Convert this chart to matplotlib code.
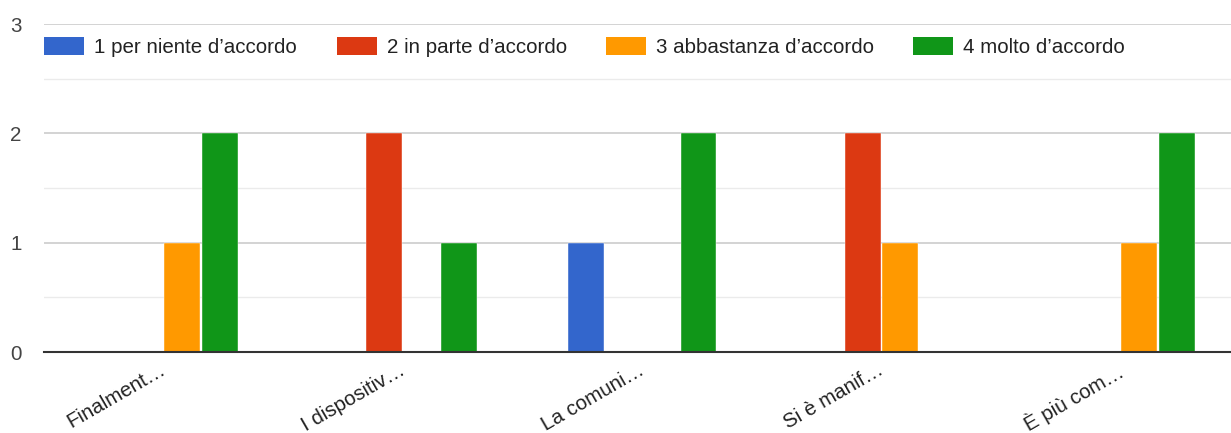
import matplotlib
matplotlib.use("Agg")
import matplotlib.pyplot as plt
import matplotlib.transforms as mtrans
from matplotlib.patches import Patch
import numpy as np

plt.rcParams['font.family'] = ['Liberation Sans', 'DejaVu Sans']

categories = ["Finalment…", "I dispositiv…", "La comuni…", "Si è manif…", "È più com…"]
series_names = ["1 per niente d’accordo", "2 in parte d’accordo",
                "3 abbastanza d’accordo", "4 molto d’accordo"]
s1 = [0, 0, 1, 0, 0]
s2 = [0, 2, 0, 2, 0]
s3 = [1, 0, 0, 1, 1]
s4 = [2, 1, 2, 0, 2]
colors = ["#3366cc", "#dc3912", "#ff9900", "#109618"]
yticks = [0, 1, 2, 3]

FS = 14.8
fig = plt.figure(figsize=(12.31, 4.33), dpi=100)
ax = fig.add_axes([44/1231, 1 - 352/433, 1 - 44/1231, (352 - 24)/433])

x = np.arange(len(categories))
step = 0.157
width = 0.150
for k, (vals, c) in enumerate(zip([s1, s2, s3, s4], colors)):
    ax.bar(x + (k - 1.5) * step, vals, width=width, color=c, zorder=3,
           edgecolor='white', linewidth=0.3)

ax.set_xlim(-0.5, -0.5 + 1187/239.25)
ax.set_ylim(0, 3)
ax.set_yticks(yticks)
ax.set_yticks([0.5, 1.5, 2.5], minor=True)
ax.grid(axis='y', which='major', color='#cccccc', linewidth=1.2, zorder=0)
ax.grid(axis='y', which='minor', color='#ebebeb', linewidth=1.0, zorder=0)
ax.tick_params(axis='y', which='both', length=0, pad=16, labelsize=FS, labelcolor='#444444')

ax.set_xticks(x)
ax.set_xticklabels(categories, rotation=30, ha='right', va='top',
                   rotation_mode='anchor', fontsize=FS, color='#222222')
ax.tick_params(axis='x', length=0, pad=6)
shift = mtrans.ScaledTranslation(-4/100, 0, fig.dpi_scale_trans)
for lab in ax.get_xticklabels():
    lab.set_transform(lab.get_transform() + shift)

for sp in ['top', 'right', 'left']:
    ax.spines[sp].set_visible(False)
ax.spines['bottom'].set_color('#333333')
ax.spines['bottom'].set_linewidth(1.5)
ax.spines['bottom'].set_zorder(4)

# legend entries placed individually (Google-style spacing)
legend_x = [44, 337, 606, 913]
for name, c, lx in zip(series_names, colors, legend_x):
    lg = fig.legend([Patch(facecolor=c, edgecolor='none')], [name],
                    loc='center left', bbox_to_anchor=(lx/1231, 1 - 47/433),
                    frameon=False, fontsize=FS, handlelength=1.95,
                    handleheight=0.95, handletextpad=0.5, borderpad=0,
                    borderaxespad=0, labelcolor='#222222')

fig.savefig("out.png", dpi=100, facecolor='white')
